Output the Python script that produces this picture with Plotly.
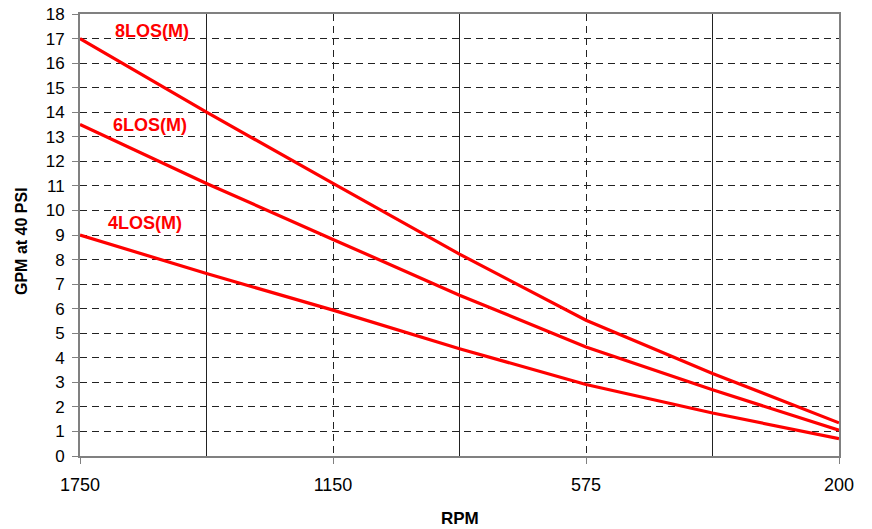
import plotly.graph_objects as go

# Positions along the RPM axis (equal steps), labelled every other step
x_steps = [0, 1, 2, 3, 4, 5, 6]
tick_positions = [0, 2, 4, 6]
tick_labels = ["1750", "1150", "575", "200"]
solid_grid_positions = [1, 3, 5]

gpm_8los = [17.0, 14.0, 11.1, 8.22, 5.53, 3.36, 1.35]
gpm_6los = [13.5, 11.1, 8.82, 6.55, 4.44, 2.70, 1.05]
gpm_4los = [9.0, 7.43, 5.94, 4.37, 2.91, 1.75, 0.71]

series_names = ["8LOS(M)", "6LOS(M)", "4LOS(M)"]
label_x = [0.57, 0.55, 0.51]
label_y = [17.3, 13.48, 9.5]

FONT = "Liberation Sans, Arial, sans-serif"
RED = "#FF0000"

W, H = 872, 529
L, T = 80, 14
R = W - 839
B = H - 456
PW, PH = W - L - R, H - T - B


def px_to_paper(px, py):
    return (px - L) / PW, 1 - (py - T) / PH


fig = go.Figure()
for name, ys in zip(series_names, [gpm_8los, gpm_6los, gpm_4los]):
    fig.add_trace(go.Scatter(x=x_steps, y=ys, mode="lines", name=name,
                             line=dict(color=RED, width=3.2)))

for name, lx, ly in zip(series_names, label_x, label_y):
    fig.add_annotation(x=lx, y=ly, text=f"<b>{name}</b>", showarrow=False,
                       xanchor="center", yanchor="middle",
                       font=dict(family=FONT, size=18, color=RED))

rx, ry = px_to_paper(460, 518)
fig.add_annotation(x=rx, y=ry, xref="paper", yref="paper", text="<b>RPM</b>",
                   showarrow=False, xanchor="center", yanchor="middle",
                   font=dict(family=FONT, size=17, color="black"))
gx, gy = px_to_paper(22, 241)
fig.add_annotation(x=gx, y=gy, xref="paper", yref="paper",
                   text="<b>GPM at 40 PSI</b>", textangle=-90,
                   showarrow=False, xanchor="center", yanchor="middle",
                   font=dict(family=FONT, size=16, color="black"))

fig.update_layout(
    width=W, height=H,
    margin=dict(l=L, r=R, t=T, b=B, autoexpand=False),
    paper_bgcolor="white", plot_bgcolor="white",
    showlegend=False,
    font=dict(family=FONT, size=18, color="black"),
)
fig.update_xaxes(
    range=[0, 6], tickmode="array", tickvals=tick_positions, ticktext=tick_labels,
    ticks="outside", ticklen=6, tickcolor="#808080", tickwidth=1,
    showline=True, linecolor="#808080", linewidth=2, mirror=True,
    showgrid=True, gridcolor="#222", gridwidth=1, griddash="7px,5px",
    minor=dict(tickmode="array", tickvals=solid_grid_positions, showgrid=True,
               gridcolor="#222", gridwidth=1, griddash="solid", ticks=""),
    zeroline=False, automargin=False,
    ticklabelstandoff=5, ticklabeloverflow="allow",
)
fig.update_yaxes(
    range=[0, 18], dtick=1, tick0=0,
    ticks="outside", ticklen=6, tickcolor="#808080", tickwidth=1,
    showline=True, linecolor="#808080", linewidth=2, mirror=True,
    showgrid=True, gridcolor="#222", gridwidth=1, griddash="7px,5px",
    zeroline=False, automargin=False,
    tickfont=dict(size=17),
    ticklabelstandoff=4, ticklabeloverflow="allow",
)

fig.write_html("out.html", config={"displayModeBar": False},
               post_script="document.body.style.margin='0px';")
